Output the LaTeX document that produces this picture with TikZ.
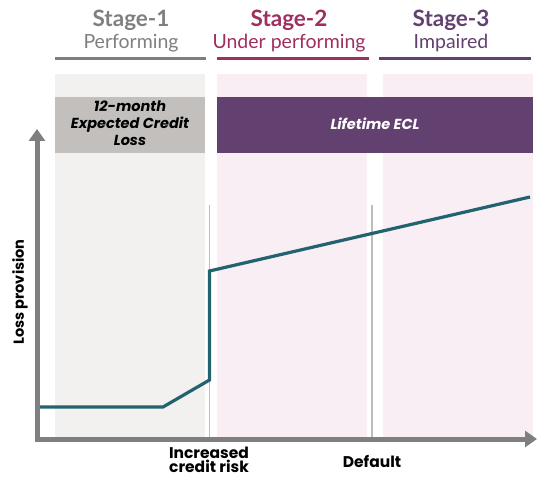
\documentclass[tikz,border=0pt]{standalone}
\usepackage{fontspec}
\setmainfont{Lato}
\newfontfamily\pop{Poppins}
\usetikzlibrary{arrows.meta}
\definecolor{sgray}{HTML}{7F7F7F}
\definecolor{scrim}{HTML}{9E2F5E}
\definecolor{spurp}{HTML}{62406F}
\definecolor{pgray}{HTML}{F2F1F0}
\definecolor{ppink}{HTML}{F9EEF4}
\definecolor{bgray}{HTML}{C2BFBC}
\definecolor{teal}{HTML}{23626F}
\definecolor{vline}{HTML}{BDBDBD}
\tikzset{
  stagehead/.style={font=\fontsize{22.5}{26}\selectfont\bfseries, inner sep=0pt, anchor=base},
  stagesub/.style={font=\fontsize{19.5}{22}\selectfont, inner sep=0pt, anchor=base},
  underline/.style={line width=3.5pt},
  boxtxt/.style={font=\pop\fontsize{14.5}{17}\selectfont\itshape\bfseries, align=center, inner sep=0pt},
  axlabel/.style={font=\pop\fontsize{15.5}{14}\selectfont\bfseries, align=center, inner sep=0pt},
  axis/.style={line width=5pt, draw=sgray, {Triangle[length=12pt,width=16pt]}-{Triangle[length=12pt,width=16pt]}},
  marker/.style={line width=1.2pt, draw=vline},
  curve/.style={line width=3.2pt, draw=teal, line join=miter}
}
\begin{document}
\begin{tikzpicture}[x=1pt,y=-1pt]
\useasboundingbox (0,0) rectangle (537,478);
% panels
\fill[pgray] (55,74) rectangle (205,437);
\fill[ppink] (217,74) rectangle (367,437);
\fill[ppink] (383,74) rectangle (533,437);
% ECL boxes
\fill[bgray] (55,97) rectangle (205,153);
\fill[spurp] (217,97) rectangle (533,153);
\node[boxtxt, text=black] (twelve) at (130,123) {12-month\\Expected Credit\\Loss};
\node[boxtxt, text=white] (life) at (375,124) {Lifetime ECL};
% headers
\node[stagehead, text=sgray] (s1) at (131,27) {Stage-1};
\node[stagesub, text=sgray] (p1) at (131,49) {Performing};
\draw[underline, sgray] (55,58.5) -- (206,58.5);
\node[stagehead, text=scrim] (s2) at (289,27) {Stage-2};
\node[stagesub, text=scrim] (p2) at (289,49) {Under performing};
\draw[underline, scrim] (217,58.5) -- (369,58.5);
\node[stagehead, text=spurp] (s3) at (451,27) {Stage-3};
\node[stagesub, text=spurp] (p3) at (451,49) {Impaired};
\draw[underline, spurp] (379,58.5) -- (531,58.5);
% markers
\coordinate (m1top) at (209.5,205);
\coordinate (m1bot) at (209.5,437);
\coordinate (m2top) at (372,205);
\coordinate (m2bot) at (372,437);
\draw[marker] (m1top) -- (m1bot);
\draw[marker] (m2top) -- (m2bot);
% curve
\coordinate (c0) at (37,407);
\coordinate (c1) at (163,407);
\coordinate (c2) at (209.5,380);
\coordinate (c3) at (209.5,271);
\coordinate (c4) at (530,197);
\draw[curve] (c0) -- (c1) -- (c2) -- (c3) -- (c4);
% axes
\coordinate (ytop) at (37,129);
\coordinate (orig) at (37,439);
\coordinate (xend) at (537,439);
\draw[axis] (ytop) -- (orig) -- (xend);
% axis labels
\node[axlabel, rotate=90, font=\pop\fontsize{14.5}{15}\selectfont\bfseries] (lp) at (20,292) {Loss provision};
\node[axlabel] (icr) at (209,460) {Increased\\credit risk};
\node[axlabel, anchor=base] (def) at (372,467) {Default};
\end{tikzpicture}
\end{document}
